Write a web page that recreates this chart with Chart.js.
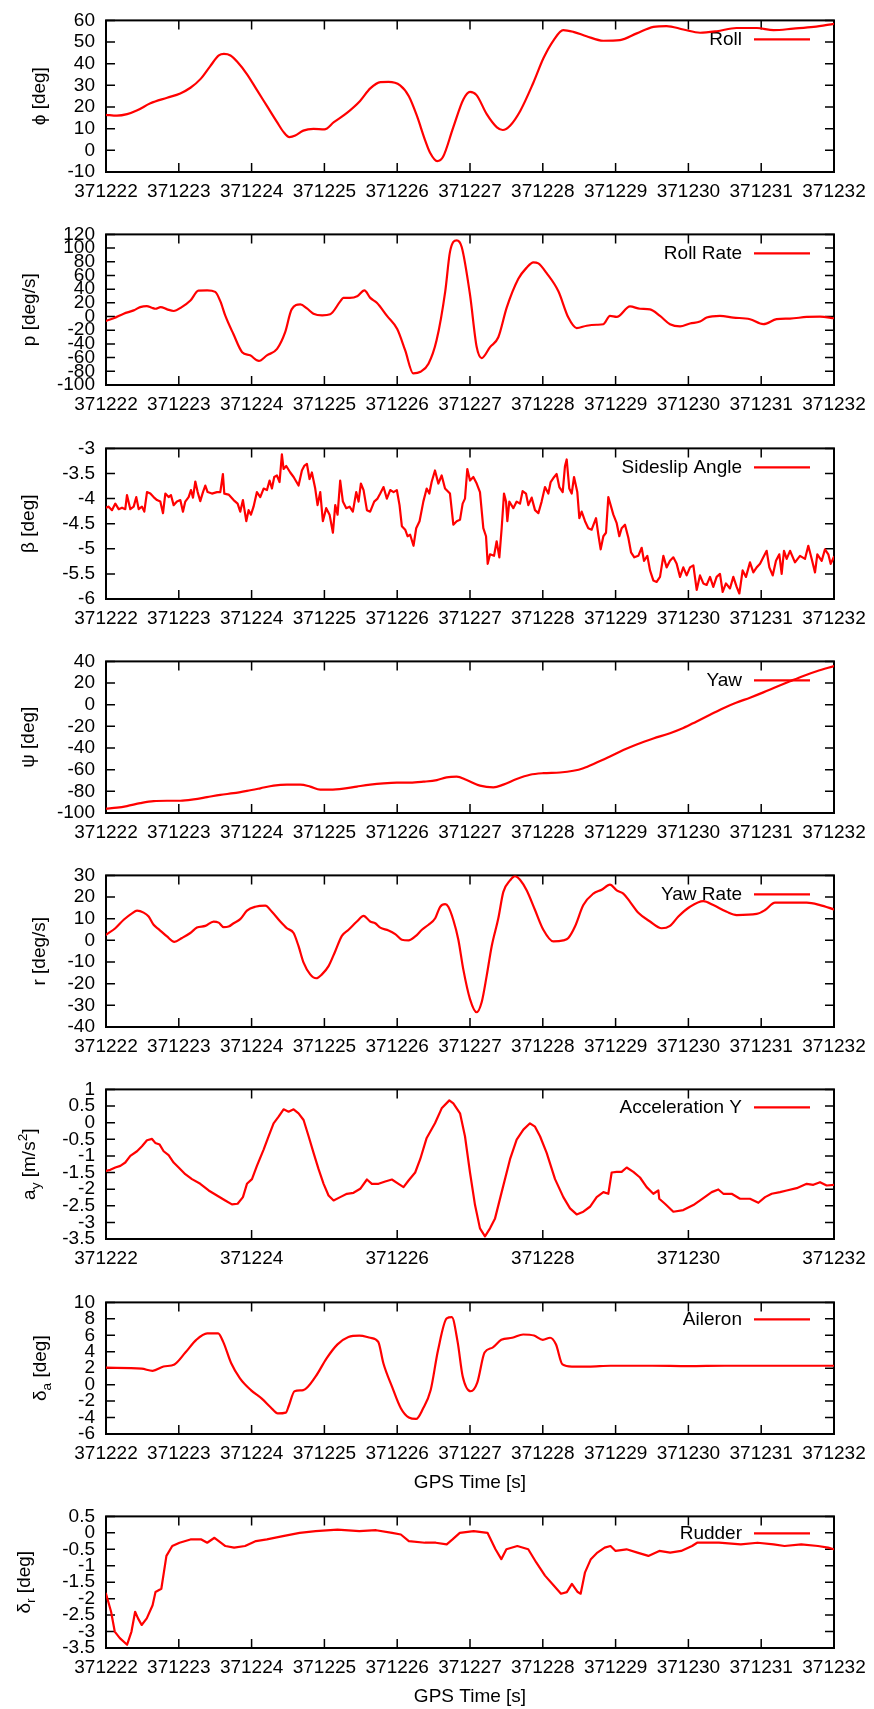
<!DOCTYPE html>
<html>
<head>
<meta charset="utf-8">
<script src="https://cdn.jsdelivr.net/npm/chart.js@4.4.1/dist/chart.umd.min.js"></script>
<style>
  html, body { margin: 0; padding: 0; background: #ffffff; }
  #page { position: relative; width: 874px; height: 1709px; overflow: hidden; background: #ffffff; }
  #page canvas { position: absolute; left: 0; }
</style>
</head>
<body>
<div id="page"></div>
<script>
// GPS time origin; every series below is stored as [seconds after T0, value]
const T0 = 371222;

// Roll angle phi [deg]
const rollData = [
  [0,16.4],[0.15,16.0],[0.29,16.7],[0.43,18.5],[0.61,21.7],[0.84,24.3],[1.02,26.3],[1.16,28.9],
  [1.30,33.0],[1.43,38.8],[1.55,43.8],[1.62,44.5],[1.71,43.8],[1.80,41.0],[1.94,35.0],[2.07,28.0],
  [2.21,20.5],[2.35,13.0],[2.44,8.4],[2.52,6.1],[2.60,6.8],[2.71,9.1],[2.85,9.9],[3.00,9.7],
  [3.13,13.0],[3.31,17.3],[3.49,22.8],[3.63,28.6],[3.77,31.5],[3.88,31.6],[4.04,30.0],[4.16,25.0],
  [4.27,16.0],[4.38,5.0],[4.45,-1.0],[4.55,-5.0],[4.63,-3.0],[4.77,10.6],[4.91,23.6],[5.00,27.0],
  [5.09,25.5],[5.23,16.7],[5.37,10.6],[5.45,9.4],[5.55,11.4],[5.69,18.2],[5.87,31.2],[6.01,42.6],
  [6.15,50.9],[6.28,55.5],[6.42,54.7],[6.60,52.7],[6.83,50.6],[7.06,50.9],[7.29,54.0],[7.52,57.0],
  [7.70,57.4],[7.93,55.8],[8.16,54.3],[8.39,55.0],[8.66,56.5],[8.94,56.5],[9.17,55.5],[9.44,56.2],
  [9.72,57.0],[10.0,58.4]
];

// Roll rate p [deg/s]
const rollRateData = [
  [0,-6.3],[0.105,-2.5],[0.243,4.2],[0.38,9.0],[0.47,13.8],[0.56,15.3],[0.63,12.9],[0.68,11.4],
  [0.75,13.8],[0.84,10.5],[0.93,8.1],[1.04,13.8],[1.16,23.4],[1.27,37.8],[1.39,38.3],[1.50,36.0],
  [1.57,22.5],[1.64,0.9],[1.75,-25.6],[1.87,-52.0],[1.98,-56.7],[2.10,-64.9],[2.21,-56.7],[2.35,-47.2],
  [2.46,-23.2],[2.55,10.5],[2.67,17.7],[2.76,11.9],[2.85,4.2],[2.97,1.8],[3.08,3.3],[3.22,22.5],
  [3.26,27.3],[3.35,27.3],[3.45,29.7],[3.55,38.3],[3.63,27.3],[3.72,20.1],[3.86,0.9],[4.00,-18.3],
  [4.11,-49.5],[4.22,-83.0],[4.32,-80.7],[4.43,-68.8],[4.54,-35.1],[4.66,36.9],[4.725,94.5],[4.817,111.3],
  [4.886,101.7],[5.0,32.0],[5.092,-44.6],[5.16,-60.6],[5.275,-44.6],[5.389,-30.3],[5.504,12.9],[5.664,55.1],
  [5.778,71.4],[5.87,79.2],[5.939,77.7],[6.053,63.3],[6.214,36.9],[6.351,-1.5],[6.465,-16.8],[6.603,-13.4],
  [6.74,-12.0],[6.832,-11.2],[6.923,0.9],[7.015,-0.6],[7.198,14.8],[7.335,11.4],[7.473,10.5],[7.61,0.9],
  [7.747,-11.2],[7.885,-14.5],[8.022,-10.2],[8.159,-7.3],[8.251,-1.5],[8.434,0.9],[8.617,-1.5],[8.846,-3.9],
  [9.029,-11.2],[9.212,-3.9],[9.396,-3.0],[9.625,-0.6],[9.808,0.0],[10.0,-2.5]
];

// Sideslip angle beta [deg]
const sideslipData = [
  [0,-4.18],[0.037,-4.16],[0.082,-4.23],[0.128,-4.10],[0.174,-4.21],[0.22,-4.18],[0.265,-4.21],[0.288,-3.93],
  [0.334,-4.21],[0.38,-4.16],[0.416,-3.97],[0.449,-4.21],[0.494,-4.16],[0.526,-4.26],[0.563,-3.87],[0.609,-3.90],
  [0.654,-3.97],[0.70,-4.03],[0.746,-4.06],[0.783,-4.29],[0.815,-3.90],[0.86,-3.97],[0.892,-3.93],[0.929,-4.13],
  [0.975,-4.06],[1.021,-4.03],[1.057,-4.26],[1.089,-4.06],[1.135,-3.97],[1.167,-3.83],[1.195,-3.98],[1.227,-3.66],
  [1.259,-3.87],[1.295,-4.05],[1.332,-3.87],[1.364,-3.74],[1.396,-3.87],[1.455,-3.90],[1.524,-3.87],[1.57,-3.87],
  [1.606,-3.51],[1.625,-3.90],[1.684,-3.92],[1.753,-4.03],[1.808,-4.10],[1.844,-4.26],[1.881,-4.03],[1.927,-4.45],
  [1.959,-4.23],[1.991,-4.32],[2.027,-4.16],[2.073,-3.87],[2.119,-3.97],[2.165,-3.80],[2.211,-3.83],[2.247,-3.64],
  [2.279,-3.80],[2.311,-3.57],[2.348,-3.54],[2.384,-3.67],[2.416,-3.12],[2.439,-3.41],[2.476,-3.35],[2.531,-3.48],
  [2.577,-3.57],[2.645,-3.74],[2.691,-3.44],[2.723,-3.35],[2.76,-3.31],[2.796,-3.61],[2.828,-3.48],[2.874,-3.80],
  [2.906,-4.13],[2.943,-3.87],[2.979,-4.45],[3.025,-4.19],[3.071,-4.32],[3.117,-4.68],[3.149,-4.13],[3.181,-4.32],
  [3.217,-3.64],[3.254,-4.06],[3.30,-4.19],[3.346,-4.16],[3.391,-4.26],[3.437,-3.87],[3.469,-4.06],[3.501,-3.70],
  [3.538,-3.83],[3.584,-4.23],[3.629,-4.26],[3.684,-4.06],[3.73,-4.00],[3.767,-3.90],[3.812,-3.77],[3.858,-4.00],
  [3.904,-3.83],[3.95,-3.87],[3.995,-3.83],[4.032,-4.13],[4.064,-4.55],[4.11,-4.62],[4.142,-4.75],[4.178,-4.72],
  [4.224,-4.94],[4.261,-4.59],[4.307,-4.45],[4.359,-4.06],[4.405,-3.80],[4.441,-3.90],[4.473,-3.67],[4.519,-3.44],
  [4.565,-3.70],[4.611,-3.54],[4.657,-3.80],[4.725,-3.90],[4.771,-4.52],[4.817,-4.45],[4.863,-4.42],[4.899,-4.10],
  [4.931,-4.00],[4.963,-3.41],[5.0,-3.64],[5.046,-3.57],[5.092,-3.70],[5.137,-3.87],[5.183,-4.59],[5.22,-4.75],
  [5.243,-5.30],[5.275,-5.11],[5.33,-5.14],[5.366,-4.85],[5.403,-5.17],[5.435,-4.59],[5.467,-3.90],[5.495,-4.06],
  [5.513,-4.45],[5.54,-4.06],[5.595,-4.19],[5.641,-4.06],[5.687,-4.10],[5.723,-3.85],[5.769,-3.90],[5.801,-4.13],
  [5.847,-3.98],[5.893,-4.23],[5.939,-4.29],[5.984,-4.06],[6.03,-3.77],[6.076,-3.90],[6.108,-3.67],[6.145,-3.59],
  [6.19,-3.51],[6.227,-3.77],[6.273,-3.87],[6.305,-3.35],[6.328,-3.22],[6.364,-3.80],[6.397,-3.90],[6.429,-3.57],
  [6.474,-3.87],[6.502,-4.39],[6.534,-4.26],[6.58,-4.45],[6.625,-4.59],[6.671,-4.62],[6.731,-4.39],[6.763,-4.72],
  [6.795,-5.01],[6.832,-4.75],[6.868,-4.68],[6.90,-3.97],[6.932,-4.13],[6.969,-4.32],[7.015,-4.49],[7.051,-4.75],
  [7.083,-4.59],[7.129,-4.52],[7.175,-4.78],[7.212,-5.07],[7.257,-5.17],[7.312,-5.14],[7.358,-4.98],[7.39,-5.24],
  [7.436,-5.14],[7.473,-5.43],[7.518,-5.63],[7.564,-5.66],[7.61,-5.56],[7.656,-5.14],[7.701,-5.37],[7.747,-5.24],
  [7.793,-5.17],[7.839,-5.30],[7.885,-5.56],[7.93,-5.37],[7.976,-5.53],[8.022,-5.37],[8.068,-5.33],[8.114,-5.82],
  [8.159,-5.53],[8.205,-5.69],[8.251,-5.72],[8.297,-5.56],[8.342,-5.76],[8.388,-5.56],[8.434,-5.50],[8.471,-5.86],
  [8.516,-5.69],[8.571,-5.79],[8.617,-5.56],[8.663,-5.76],[8.70,-5.89],[8.745,-5.43],[8.791,-5.56],[8.846,-5.27],
  [8.892,-5.47],[8.938,-5.37],[8.984,-5.30],[9.029,-5.17],[9.075,-5.04],[9.112,-5.37],[9.158,-5.53],[9.203,-5.24],
  [9.249,-5.11],[9.281,-5.50],[9.313,-5.04],[9.35,-5.20],[9.396,-5.04],[9.464,-5.27],[9.533,-5.14],[9.602,-5.20],
  [9.647,-4.94],[9.693,-5.20],[9.739,-5.47],[9.771,-5.11],[9.831,-5.24],[9.876,-5.01],[9.922,-5.11],[9.954,-5.30],
  [10.0,-5.16]
];

// Yaw angle psi [deg]
const yawData = [
  [0,-96.0],[0.151,-95.1],[0.288,-93.6],[0.471,-90.9],[0.654,-89.0],[0.838,-88.7],[1.021,-88.7],[1.204,-87.5],
  [1.387,-85.4],[1.57,-83.2],[1.753,-81.7],[1.936,-79.6],[2.119,-77.2],[2.302,-74.7],[2.485,-73.8],[2.668,-73.8],
  [2.805,-75.6],[2.943,-78.4],[3.08,-78.4],[3.263,-77.5],[3.446,-75.6],[3.629,-73.8],[3.812,-72.6],[3.995,-72.0],
  [4.178,-72.0],[4.362,-71.1],[4.545,-69.6],[4.679,-67.1],[4.817,-66.5],[4.954,-69.6],[5.137,-74.7],[5.321,-76.3],
  [5.458,-73.8],[5.641,-68.6],[5.824,-64.7],[6.007,-63.2],[6.236,-62.6],[6.419,-61.0],[6.557,-58.6],[6.74,-53.4],
  [6.923,-47.9],[7.106,-41.9],[7.289,-36.7],[7.518,-31.2],[7.747,-26.3],[7.93,-21.5],[8.114,-15.4],[8.297,-9.3],
  [8.48,-3.2],[8.663,2.0],[8.846,6.5],[9.029,11.4],[9.212,16.6],[9.396,21.7],[9.579,26.6],[9.762,30.9],[10.0,35.7]
];

// Yaw rate r [deg/s]
const yawRateData = [
  [0,2.6],[0.128,5.6],[0.243,9.5],[0.357,12.5],[0.426,13.7],[0.517,12.8],[0.586,11.0],[0.654,7.2],
  [0.723,5.2],[0.838,1.8],[0.938,-0.7],[1.044,1.1],[1.158,3.4],[1.249,5.9],[1.364,6.7],[1.478,8.7],
  [1.547,8.2],[1.616,6.1],[1.684,6.4],[1.753,7.9],[1.844,9.8],[1.936,13.7],[2.05,15.5],[2.188,16.0],
  [2.279,13.2],[2.394,8.7],[2.485,5.6],[2.577,3.4],[2.645,-2.7],[2.714,-10.3],[2.805,-15.7],[2.888,-17.5],
  [2.966,-15.7],[3.057,-11.9],[3.149,-5.0],[3.24,2.1],[3.332,4.9],[3.446,8.7],[3.538,11.3],[3.629,8.7],
  [3.698,7.9],[3.767,5.9],[3.881,4.6],[3.973,2.9],[4.064,0.3],[4.156,0.0],[4.248,1.8],[4.339,4.9],
  [4.43,7.2],[4.522,10.2],[4.59,15.5],[4.659,16.7],[4.702,15.5],[4.771,9.4],[4.84,0.3],[4.908,-13.4],
  [5.0,-27.1],[5.092,-33.2],[5.16,-28.6],[5.229,-16.4],[5.298,-2.7],[5.389,10.2],[5.458,22.4],[5.55,27.7],
  [5.618,29.7],[5.687,28.0],[5.778,23.1],[5.893,14.0],[6.007,4.9],[6.145,-0.5],[6.282,0.0],[6.351,1.1],
  [6.442,6.4],[6.557,16.3],[6.694,21.6],[6.808,23.4],[6.923,25.7],[7.015,23.1],[7.106,21.6],[7.198,17.8],
  [7.312,12.8],[7.473,8.7],[7.633,5.6],[7.747,6.7],[7.862,11.0],[8.022,15.5],[8.205,18.1],[8.342,16.3],
  [8.526,13.2],[8.663,11.7],[8.938,12.2],[9.053,14.0],[9.19,17.4],[9.35,17.4],[9.625,17.4],[9.808,16.3],[10.0,14.3]
];

// Lateral acceleration a_y [m/s^2]
const accelYData = [
  [0,-1.45],[0.059,-1.42],[0.128,-1.35],[0.197,-1.30],[0.265,-1.20],[0.334,-1.00],[0.426,-0.86],[0.494,-0.71],
  [0.563,-0.53],[0.632,-0.49],[0.677,-0.61],[0.737,-0.66],[0.792,-0.86],[0.86,-0.98],[0.929,-1.20],[0.998,-1.35],
  [1.089,-1.55],[1.181,-1.70],[1.295,-1.84],[1.41,-2.04],[1.524,-2.19],[1.638,-2.34],[1.73,-2.46],[1.808,-2.44],
  [1.881,-2.24],[1.936,-1.84],[2.005,-1.70],[2.073,-1.30],[2.165,-0.81],[2.233,-0.41],[2.302,-0.02],[2.371,0.18],
  [2.439,0.40],[2.508,0.33],[2.577,0.40],[2.645,0.28],[2.714,0.08],[2.783,-0.41],[2.851,-0.91],[2.92,-1.40],
  [2.989,-1.84],[3.057,-2.19],[3.126,-2.34],[3.217,-2.24],[3.309,-2.14],[3.40,-2.11],[3.492,-1.99],[3.584,-1.71],
  [3.652,-1.84],[3.744,-1.84],[3.835,-1.77],[3.927,-1.71],[4.018,-1.84],[4.087,-1.94],[4.156,-1.74],[4.247,-1.50],
  [4.316,-1.10],[4.405,-0.46],[4.519,-0.02],[4.611,0.43],[4.716,0.67],[4.771,0.58],[4.863,0.28],[4.931,-0.41],
  [5.0,-1.50],[5.069,-2.48],[5.137,-3.18],[5.206,-3.42],[5.275,-3.18],[5.344,-2.88],[5.435,-2.09],[5.55,-1.10],
  [5.641,-0.51],[5.733,-0.21],[5.824,-0.02],[5.893,-0.12],[5.962,-0.41],[6.053,-0.91],[6.168,-1.70],[6.282,-2.24],
  [6.374,-2.58],[6.465,-2.76],[6.557,-2.68],[6.648,-2.53],[6.74,-2.24],[6.832,-2.09],[6.90,-2.14],[6.946,-1.50],
  [7.015,-1.48],[7.083,-1.48],[7.152,-1.35],[7.244,-1.48],[7.335,-1.65],[7.427,-1.94],[7.518,-2.14],[7.587,-2.04],
  [7.60,-2.29],[7.678,-2.44],[7.793,-2.68],[7.93,-2.63],[8.068,-2.48],[8.205,-2.27],[8.32,-2.09],[8.411,-2.01],
  [8.48,-2.14],[8.594,-2.14],[8.709,-2.29],[8.846,-2.29],[8.961,-2.41],[9.053,-2.24],[9.144,-2.14],[9.258,-2.09],
  [9.35,-2.04],[9.487,-1.97],[9.625,-1.84],[9.716,-1.87],[9.808,-1.79],[9.899,-1.89],[10.0,-1.87]
];

// Aileron deflection delta_a [deg]
const aileronData = [
  [0,2.07],[0.49,1.94],[0.64,1.68],[0.79,2.2],[0.94,2.46],[1.09,3.9],[1.24,5.45],[1.39,6.23],
  [1.54,6.23],[1.61,5.2],[1.72,2.6],[1.84,0.77],[1.99,-0.66],[2.14,-1.7],[2.26,-2.74],[2.36,-3.5],
  [2.47,-3.4],[2.51,-2.6],[2.59,-0.8],[2.71,-0.66],[2.88,1.0],[3.03,3.2],[3.18,4.9],[3.33,5.8],
  [3.48,5.97],[3.63,5.7],[3.74,5.2],[3.81,2.6],[3.93,-0.27],[4.05,-2.87],[4.16,-4.0],[4.26,-4.17],
  [4.35,-3.0],[4.46,-0.66],[4.56,4.15],[4.68,8.05],[4.75,8.2],[4.83,5.2],[4.90,1.0],[5.01,-0.8],
  [5.10,0.25],[5.20,3.9],[5.31,4.5],[5.43,5.45],[5.58,5.7],[5.73,6.1],[5.88,5.97],[6.00,5.45],
  [6.10,5.7],[6.18,4.9],[6.27,2.46],[6.40,2.2],[6.63,2.2],[6.93,2.3],[7.5,2.3],[8.0,2.25],
  [8.5,2.3],[9.0,2.3],[9.5,2.3],[10.0,2.3]
];

// Rudder deflection delta_r [deg]
const rudderData = [
  [0,-1.85],[0.07,-2.4],[0.12,-3.0],[0.19,-3.2],[0.29,-3.4],[0.35,-3.0],[0.40,-2.4],[0.44,-2.6],
  [0.49,-2.8],[0.56,-2.6],[0.64,-2.2],[0.68,-1.8],[0.76,-1.7],[0.83,-0.7],[0.91,-0.4],[1.01,-0.3],
  [1.16,-0.2],[1.31,-0.2],[1.39,-0.3],[1.49,-0.15],[1.64,-0.4],[1.76,-0.45],[1.91,-0.4],[2.06,-0.25],
  [2.21,-0.2],[2.43,-0.1],[2.66,0.0],[2.88,0.05],[3.18,0.1],[3.48,0.05],[3.71,0.08],[3.93,0.0],
  [4.05,-0.05],[4.16,-0.25],[4.38,-0.3],[4.53,-0.3],[4.68,-0.35],[4.76,-0.2],[4.86,0.0],[5.05,0.05],
  [5.24,0.0],[5.35,-0.5],[5.43,-0.8],[5.50,-0.5],[5.65,-0.4],[5.80,-0.5],[5.91,-0.9],[6.03,-1.3],
  [6.15,-1.6],[6.25,-1.85],[6.33,-1.8],[6.40,-1.55],[6.48,-1.8],[6.52,-1.85],[6.58,-1.2],[6.66,-0.8],
  [6.75,-0.6],[6.85,-0.45],[6.93,-0.4],[7.0,-0.55],[7.15,-0.5],[7.30,-0.6],[7.45,-0.7],[7.60,-0.55],
  [7.75,-0.6],[7.90,-0.55],[8.05,-0.4],[8.12,-0.3],[8.42,-0.3],[8.72,-0.35],[8.95,-0.3],[9.17,-0.35],
  [9.32,-0.4],[9.55,-0.35],[9.78,-0.4],[9.92,-0.45],[10.0,-0.5]
];

// Legend names
const legendNames = ['Roll', 'Roll Rate', 'Sideslip Angle', 'Yaw', 'Yaw Rate', 'Acceleration Y', 'Aileron', 'Rudder'];

// Y-axis titles as [text, shift] runs: 0 normal, -1 subscript, 1 superscript
const yTitles = [
  [['\u03D5 [deg]', 0]],
  [['p [deg/s]', 0]],
  [['\u03B2 [deg]', 0]],
  [['\u03C8 [deg]', 0]],
  [['r [deg/s]', 0]],
  [['a', 0], ['y', -1], [' [m/s', 0], ['2', 1], [']', 0]],
  [['\u03B4', 0], ['a', -1], [' [deg]', 0]],
  [['\u03B4', 0], ['r', -1], [' [deg]', 0]]
];

// Y-axis ranges [min, max, step]
const yRanges = [
  [-10, 60, 10], [-100, 120, 20], [-6, -3, 0.5], [-100, 40, 20],
  [-40, 30, 10], [-3.5, 1, 0.5], [-6, 10, 2], [-3.5, 0.5, 0.5]
];

// X tick spacing [s] per panel
const xSteps = [1, 1, 1, 1, 1, 2, 1, 1];
const xTitleText = 'GPS Time [s]';

// ---- drawing ----
const FONT = '"Liberation Sans", Arial, Helvetica, sans-serif';
const FS = 19;
const PAGE_W = 874;
const PLOT_L = 106, PLOT_R = 834;
const panelTops    = [18, 232, 446, 659, 873, 1087, 1300, 1514];
const panelHeights = [154, 153, 153, 154, 154, 152, 134, 134];
const titleCenterX = [38, 28, 27, 27, 38, 28, 39, 23];
const hasXTitle    = [false, false, false, false, false, false, true, true];
const legendDy     = [19, 19, 19, 19, 19, 18, 17, 17];
const smoothLine   = [true, true, false, true, true, false, true, false];
const seriesList = [rollData, rollRateData, sideslipData, yawData, yawRateData, accelYData, aileronData, rudderData];

const PAD_TOP = 20;
const LINE_W = 2.2;

function drawRichVertical(ctx, runs, cx, cy) {
  ctx.save();
  ctx.translate(cx, cy);
  ctx.rotate(-Math.PI / 2);
  ctx.fillStyle = '#000';
  ctx.textAlign = 'left';
  ctx.textBaseline = 'alphabetic';
  const segs = runs.map(([txt, shift]) => {
    const size = shift ? FS * 0.72 : FS;
    ctx.font = size + 'px ' + FONT;
    return { txt, shift, size, w: ctx.measureText(txt).width };
  });
  const total = segs.reduce((s, g) => s + g.w, 0);
  let x = -total / 2;
  const base = FS * 0.36;
  for (const g of segs) {
    ctx.font = g.size + 'px ' + FONT;
    const dy = g.shift < 0 ? FS * 0.28 : (g.shift > 0 ? -FS * 0.42 : 0);
    ctx.fillText(g.txt, x, base + dy);
    x += g.w;
  }
  ctx.restore();
}

const framePlugin = {
  id: 'gpFrame',
  beforeDatasetsDraw(chart, args, opts) {
    const ctx = chart.ctx;
    const a = chart.chartArea;
    const sx = chart.scales.x, sy = chart.scales.y;
    ctx.save();
    // inward tick marks, mirrored on all four sides
    ctx.strokeStyle = '#000';
    ctx.lineWidth = 1.5;
    ctx.beginPath();
    const TL = 9;
    sx.ticks.forEach(tk => {
      const px = sx.getPixelForValue(tk.value);
      ctx.moveTo(px, a.bottom); ctx.lineTo(px, a.bottom - TL);
      ctx.moveTo(px, a.top);    ctx.lineTo(px, a.top + TL);
    });
    sy.ticks.forEach(tk => {
      const py = sy.getPixelForValue(tk.value);
      ctx.moveTo(a.left, py);  ctx.lineTo(a.left + TL, py);
      ctx.moveTo(a.right, py); ctx.lineTo(a.right - TL, py);
    });
    ctx.stroke();
    // plot border
    ctx.lineWidth = 2;
    ctx.strokeRect(a.left, a.top, a.right - a.left, a.bottom - a.top);
    // key: label then line sample, top right
    const ly = a.top + opts.legendDy;
    ctx.font = FS + 'px ' + FONT;
    ctx.fillStyle = '#000';
    ctx.textAlign = 'right';
    ctx.textBaseline = 'middle';
    ctx.fillText(opts.legend, 742, ly);
    ctx.strokeStyle = '#ff0000';
    ctx.lineWidth = LINE_W;
    ctx.beginPath();
    ctx.moveTo(754, ly); ctx.lineTo(810, ly);
    ctx.stroke();
    ctx.restore();
    // y-axis title
    drawRichVertical(ctx, opts.yTitle, opts.titleX, (a.top + a.bottom) / 2);
  }
};

const page = document.getElementById('page');

seriesList.forEach((series, i) => {
  const h = panelHeights[i];
  const below = hasXTitle[i] ? 62 : 42;
  const cvH = PAD_TOP + h + below;
  const cv = document.createElement('canvas');
  cv.width = PAGE_W;
  cv.height = cvH;
  cv.style.width = PAGE_W + 'px';
  cv.style.height = cvH + 'px';
  cv.style.top = (panelTops[i] - PAD_TOP) + 'px';
  page.appendChild(cv);

  const [yMin, yMax, yStep] = yRanges[i];
  const smooth = smoothLine[i];

  new Chart(cv, {
    type: 'line',
    data: {
      datasets: [{
        label: legendNames[i],
        data: series.map(([t, v]) => ({ x: T0 + t, y: v })),
        borderColor: '#ff0000',
        borderWidth: LINE_W,
        pointRadius: 0,
        fill: false,
        tension: smooth ? 0.4 : 0,
        cubicInterpolationMode: smooth ? 'monotone' : 'default',
        borderJoinStyle: 'round',
        borderCapStyle: 'round'
      }]
    },
    options: {
      responsive: false,
      animation: false,
      devicePixelRatio: 1,
      layout: { padding: { top: PAD_TOP, left: 0, right: PAGE_W - PLOT_R, bottom: 0 } },
      plugins: {
        legend: { display: false },
        tooltip: { enabled: false },
        gpFrame: { legend: legendNames[i], legendDy: legendDy[i], yTitle: yTitles[i], titleX: titleCenterX[i] }
      },
      scales: {
        x: {
          type: 'linear',
          min: T0,
          max: T0 + 10,
          afterFit(scale) { scale.height = below; },
          grid: { display: false, drawTicks: false },
          border: { display: false },
          ticks: {
            stepSize: xSteps[i],
            autoSkip: false,
            maxRotation: 0,
            minRotation: 0,
            padding: 8,
            color: '#000',
            font: { family: FONT, size: FS },
            callback: v => String(v)
          },
          title: {
            display: hasXTitle[i],
            text: xTitleText,
            color: '#000',
            font: { family: FONT, size: FS },
            padding: { top: 0, bottom: 2 }
          }
        },
        y: {
          type: 'linear',
          min: yMin,
          max: yMax,
          afterFit(scale) { scale.width = PLOT_L; },
          grid: { display: false, drawTicks: false },
          border: { display: false },
          ticks: {
            stepSize: yStep,
            autoSkip: false,
            padding: 11,
            color: '#000',
            font: { family: FONT, size: FS },
            callback: v => String(Math.round(v * 100) / 100)
          }
        }
      }
    },
    plugins: [framePlugin]
  });
});
</script>
</body>
</html>
